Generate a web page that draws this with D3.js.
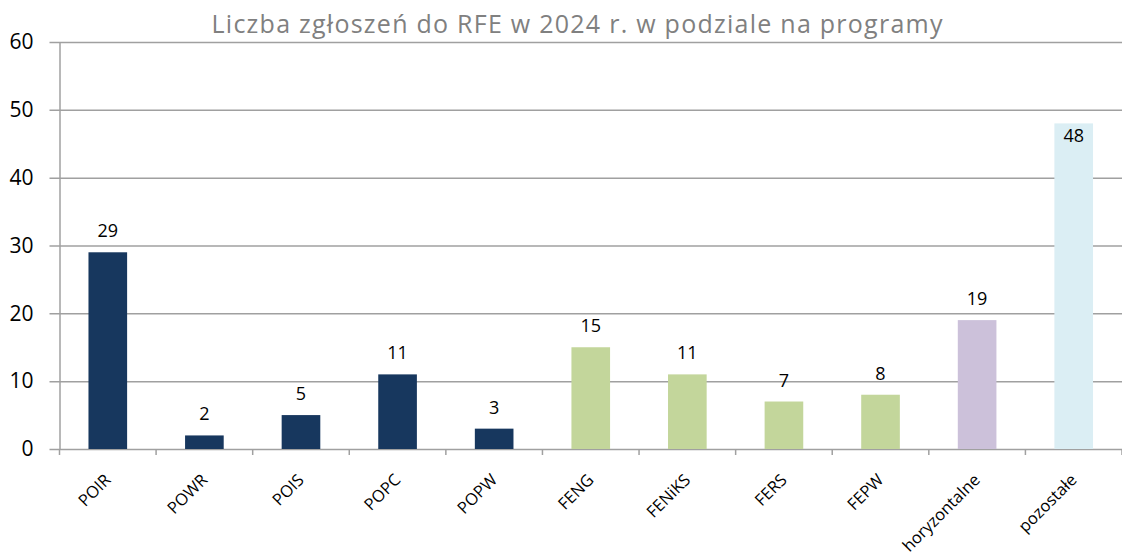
<!DOCTYPE html>
<html>
<head>
<meta charset="utf-8">
<script src="https://cdn.jsdelivr.net/npm/d3@7"></script>
<style>
  body { margin: 0; background: #fff; }
  text { font-family: "Open Sans", "Noto Sans", sans-serif; }
</style>
</head>
<body>
<div id="chart"></div>
<script>
var categories = ["POIR", "POWR", "POIS", "POPC", "POPW", "FENG", "FENiKS", "FERS", "FEPW", "horyzontalne", "pozostałe"];
var values = [29, 2, 5, 11, 3, 15, 11, 7, 8, 19, 48];
var groups = ["old", "old", "old", "old", "old", "new", "new", "new", "new", "horiz", "other"];
var yTicks = [0, 10, 20, 30, 40, 50, 60];
var title = "Liczba zgłoszeń do RFE w 2024 r. w podziale na programy";

var svgWidth = 1122;
var svgHeight = 557;

var margin = { top: 42, right: 0, bottom: 108, left: 59.5 };
var width = svgWidth - margin.left - margin.right;
var height = svgHeight - margin.top - margin.bottom;

var colors = { old: "#17375E", new: "#C3D69B", horiz: "#CCC1DA", other: "#DBEEF4" };

var svg = d3.select("#chart")
  .append("svg")
  .attr("width", svgWidth)
  .attr("height", svgHeight);

var chartGroup = svg.append("g")
  .attr("transform", `translate(${margin.left}, ${margin.top})`);

var xScale = d3.scaleBand()
  .domain(categories)
  .range([0, width])
  .paddingInner(0.6)
  .paddingOuter(0.3);

var yScale = d3.scaleLinear()
  .domain([0, 60])
  .range([height, 0]);

// gridlines with ticks sticking out to the left
var leftAxis = d3.axisLeft(yScale)
  .tickValues(yTicks)
  .tickSize(-width)
  .tickSizeOuter(0)
  .tickPadding(26);

var yAxis = chartGroup.append("g").call(leftAxis);
yAxis.select(".domain").attr("stroke", "#a0a0a0").attr("stroke-width", 1.5);
yAxis.selectAll(".tick line")
  .attr("x1", -10)
  .attr("stroke", "#a0a0a0")
  .attr("stroke-width", 1.5);
yAxis.selectAll(".tick text")
  .attr("font-size", 21)
  .attr("font-family", "Open Sans, sans-serif")
  .attr("fill", "#000");

// x axis tick marks at category boundaries
var bounds = d3.range(categories.length + 1).map(i => i * xScale.step());
chartGroup.append("g")
  .selectAll("line")
  .data(bounds)
  .enter()
  .append("line")
  .attr("x1", d => d)
  .attr("x2", d => d)
  .attr("y1", height)
  .attr("y2", height + 6)
  .attr("stroke", "#a0a0a0")
  .attr("stroke-width", 1.5);

// bars
chartGroup.selectAll(".bar")
  .data(values)
  .enter()
  .append("rect")
  .attr("class", "bar")
  .attr("x", (d, i) => xScale(categories[i]))
  .attr("y", d => yScale(d))
  .attr("width", xScale.bandwidth())
  .attr("height", d => height - yScale(d))
  .attr("fill", (d, i) => colors[groups[i]]);

// value labels (the tallest one sits inside its bar)
chartGroup.selectAll(".val")
  .data(values)
  .enter()
  .append("text")
  .attr("class", "val")
  .attr("x", (d, i) => xScale(categories[i]) + xScale.bandwidth() / 2)
  .attr("y", d => d > 45 ? yScale(d) + 19 : yScale(d) - 15)
  .attr("text-anchor", "middle")
  .attr("font-size", 18)
  .attr("fill", "#000")
  .text(d => d);

// category labels, rotated
chartGroup.selectAll(".cat")
  .data(categories)
  .enter()
  .append("text")
  .attr("class", "cat")
  .attr("transform", d => `translate(${xScale(d) + xScale.bandwidth() / 2 + 4}, ${height + 32}) rotate(-45)`)
  .attr("text-anchor", "end")
  .attr("font-size", 16.5)
  .attr("fill", "#000")
  .text(d => d);

// title
svg.append("text")
  .attr("x", 577)
  .attr("y", 33)
  .attr("text-anchor", "middle")
  .attr("font-family", "Lato, 'Open Sans', sans-serif")
  .attr("font-size", 25)
  .attr("textLength", 731)
  .attr("lengthAdjust", "spacing")
  .attr("fill", "#808080")
  .text(title);
</script>
</body>
</html>
